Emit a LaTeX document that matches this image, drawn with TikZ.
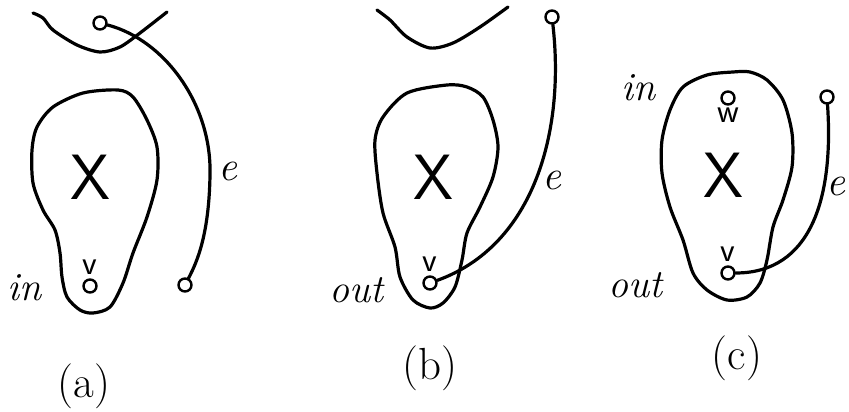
\documentclass[tikz,border=0pt]{standalone}
\usetikzlibrary{positioning}
\tikzset{
  vtx/.style={circle, draw, line width=2.4pt, minimum size=13pt, inner sep=0pt},
  wire/.style={line width=3.2pt, line cap=round},
  region/.style={line width=3.2pt, line join=round},
  bigx/.style={font=\fontsize{64}{64}\selectfont\sffamily, inner sep=0pt},
  vname/.style={font=\fontsize{34}{34}\selectfont\sffamily, inner sep=0pt},
  side/.style={font=\fontsize{40}{40}\selectfont\itshape, inner sep=1pt},
  ename/.style={font=\fontsize{42}{42}\selectfont\itshape, inner sep=0pt},
  caption/.style={font=\fontsize{45}{45}\selectfont, inner sep=0pt},
}

\begin{document}
\begin{tikzpicture}[x=1pt, y=-1pt]
\useasboundingbox[fill=white] (0,0) rectangle (849,412);

%% ── (a): v inside, e far away ────────────────────────────────────────────
\draw[wire] plot[smooth] coordinates
  {(33,13) (43,18) (53,30) (77,45) (100,52) (120,47) (140,33) (167,12)};
\draw[region] plot[smooth cycle] coordinates
  {(118,90) (83,93) (53,107) (37,127) (32,150) (33,183) (43,210) (55,230)
   (60,253) (62,277) (67,297) (80,310) (93,313) (110,307) (123,283)
   (133,253) (147,217) (157,180) (157,147) (147,120) (133,97)};
\node[bigx] (Xa) at (90,177) {X};
\node[vtx, fill=white] (ta) at (100,23) {};
\node[vtx] (ba) at (185,285) {};
\node[vtx] (va) at (90,286) {};
\node[vname, above=4pt of va] (la) {v};
\node[side] (ina) at (25,288) {in};
\draw[wire] (ta) .. controls (165,40) and (212,105) .. (210,175)
  .. controls (209,235) and (197,262) .. (ba);
\node[ename] (ea) at (228,171) {e};
\node[caption] (capa) at (84,386) {(a)};

%% ── (b): e leaves v from the inside ──────────────────────────────────────
\draw[wire] plot[smooth] coordinates
  {(377,10) (390,20) (407,37) (430,48) (453,43) (480,27) (508,7)};
\draw[region] plot[smooth cycle] coordinates
  {(447,85) (407,93) (383,117) (375,140) (377,173) (383,213) (395,247)
   (400,277) (413,300) (430,308) (443,303) (455,287) (462,260) (467,233)
   (480,207) (493,177) (498,147) (493,120) (483,97) (467,87)};
\node[bigx] (Xb) at (433,177) {X};
\node[vtx] (tb) at (552,17) {};
\node[vtx] (vb) at (430,283) {};
\node[vname, above=4pt of vb] (lb) {v};
\node[side] (outb) at (356,290) {out};
\draw[wire] (tb) .. controls (565,130) and (535,245) .. (vb);
\node[ename] (eb) at (552,180) {e};
\node[caption] (capb) at (430,368) {(b)};

%% ── (c): w in, v out ─────────────────────────────────────────────────────
\draw[region] plot[smooth cycle] coordinates
  {(733,72) (707,75) (683,87) (670,110) (662,140) (662,173) (670,207)
   (683,240) (693,273) (707,290) (727,300) (747,297) (760,283) (767,260)
   (773,227) (783,200) (792,167) (792,133) (783,100) (767,80) (750,72)};
\node[bigx] (Xc) at (723,175) {X};
\node[vtx] (wc) at (728,98) {};
\node[vname, below=2pt of wc] (lw) {w};
\node[vtx] (tc) at (827,97) {};
\node[vtx] (vc) at (728,273) {};
\node[vname, above=4pt of vc] (lc) {v};
\node[side] (inc) at (638,88) {in};
\node[side] (outc) at (635,285) {out};
\draw[wire] (tc) .. controls (834,200) and (810,273) .. (vc);
\node[ename] (ec) at (836,186) {e};
\node[caption] (capc) at (737,358) {(c)};

\end{tikzpicture}
\end{document}
